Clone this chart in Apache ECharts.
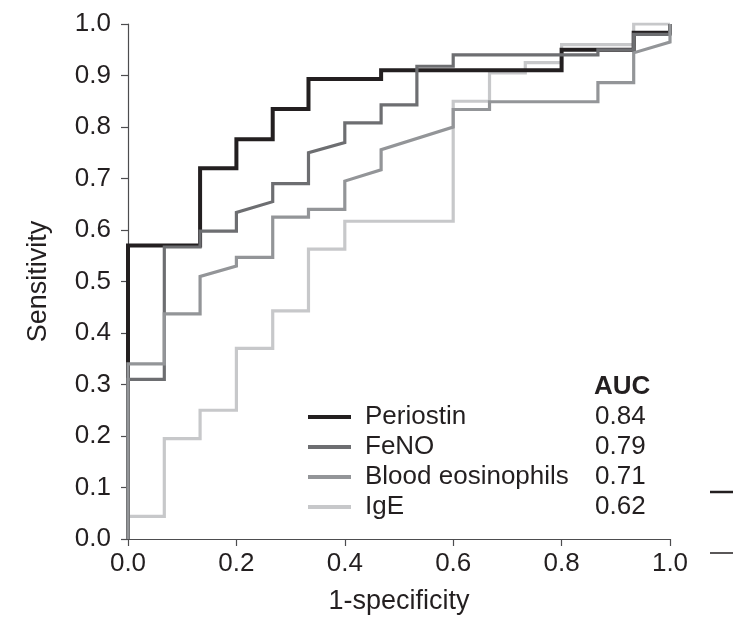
<!DOCTYPE html>
<html>
<head>
<meta charset="utf-8">
<script src="https://cdn.jsdelivr.net/npm/echarts@6/dist/echarts.min.js"></script>
<style>
  html, body { margin: 0; padding: 0; background: #fff; }
  #chart { width: 737px; height: 620px; }
</style>
</head>
<body>
<div id="chart"></div>
<script>
// ROC curves, vertices of each step line: [1-specificity, sensitivity]
const names = ['Periostin', 'FeNO', 'Blood eosinophils', 'IgE']
const aucValues = ['0.84', '0.79', '0.71', '0.62']
const colors = ['#231f20', '#6d6e71', '#939598', '#c7c8ca']
const xTicks = [0, 0.2, 0.4, 0.6, 0.8, 1.0]
const yTicks = [0, 0.1, 0.2, 0.3, 0.4, 0.5, 0.6, 0.7, 0.8, 0.9, 1.0]

const periostin = [
  [0, 0], [0, 0.57], [0.133, 0.57], [0.133, 0.72], [0.2, 0.72], [0.2, 0.776],
  [0.267, 0.776], [0.267, 0.835], [0.333, 0.835], [0.333, 0.893], [0.467, 0.893],
  [0.467, 0.91], [0.8, 0.91], [0.8, 0.95], [0.933, 0.95], [0.933, 0.983], [1, 0.983], [1, 1]
]
const feno = [
  [0, 0], [0, 0.31], [0.067, 0.31], [0.067, 0.567], [0.133, 0.567], [0.133, 0.598],
  [0.2, 0.598], [0.2, 0.634], [0.267, 0.655], [0.267, 0.69], [0.333, 0.69], [0.333, 0.75],
  [0.4, 0.77], [0.4, 0.808], [0.467, 0.808], [0.467, 0.843], [0.533, 0.843], [0.533, 0.918],
  [0.6, 0.918], [0.6, 0.94], [0.867, 0.94], [0.867, 0.95], [0.933, 0.95], [0.933, 0.98],
  [1, 0.98], [1, 1]
]
const bloodEos = [
  [0, 0], [0, 0.34], [0.067, 0.34], [0.067, 0.437], [0.133, 0.437], [0.133, 0.51],
  [0.2, 0.53], [0.2, 0.547], [0.267, 0.547], [0.267, 0.625], [0.333, 0.625], [0.333, 0.64],
  [0.4, 0.64], [0.4, 0.695], [0.467, 0.717], [0.467, 0.756], [0.6, 0.8], [0.6, 0.834],
  [0.667, 0.834], [0.667, 0.849], [0.867, 0.849], [0.867, 0.886], [0.933, 0.886],
  [0.933, 0.944], [1, 0.965], [1, 1]
]
const ige = [
  [0, 0], [0, 0.044], [0.067, 0.044], [0.067, 0.195], [0.133, 0.195], [0.133, 0.25],
  [0.2, 0.25], [0.2, 0.37], [0.267, 0.37], [0.267, 0.443], [0.333, 0.443], [0.333, 0.563],
  [0.4, 0.563], [0.4, 0.617], [0.6, 0.617], [0.6, 0.85], [0.667, 0.85], [0.667, 0.905],
  [0.733, 0.905], [0.733, 0.925], [0.8, 0.925], [0.8, 0.96], [0.933, 0.96], [0.933, 1], [1, 1]
]
const curves = [periostin, feno, bloodEos, ige]

const font = 'Liberation Sans, Arial, Helvetica, sans-serif'
const textColor = '#231f20'
const myChart = echarts.init(document.getElementById('chart'))

function makeSeries(i, z) {
  return {
    name: names[i],
    type: 'line',
    data: curves[i],
    showSymbol: false,
    symbol: 'none',
    z: z,
    color: colors[i],
    lineStyle: { color: colors[i], width: i === 0 ? 4 : 3.2, join: 'miter', cap: 'butt' },
    emphasis: { disabled: true },
    animation: false
  }
}

const option = {
  backgroundColor: '#fff',
  animation: false,
  textStyle: { fontFamily: font },
  grid: { left: 128, right: 67, top: 24, bottom: 79 },
  xAxis: {
    type: 'value',
    min: 0, max: 1, interval: 0.2,
    name: '1-specificity',
    nameLocation: 'middle',
    nameGap: 49,
    nameTextStyle: { fontSize: 27, color: textColor, fontFamily: font },
    axisLine: { show: true, lineStyle: { color: '#4d4d4f', width: 1.2 } },
    axisTick: { show: true, length: 7, lineStyle: { color: '#4d4d4f', width: 1.2 } },
    axisLabel: {
      margin: 12, fontSize: 26, color: textColor, fontFamily: font,
      formatter: v => xTicks.includes(+v.toFixed(1)) ? v.toFixed(1) : ''
    },
    splitLine: { show: false }
  },
  yAxis: {
    type: 'value',
    min: 0, max: 1, interval: 0.1,
    name: 'Sensitivity',
    nameLocation: 'middle',
    nameGap: 76,
    nameTextStyle: { fontSize: 27, color: textColor, fontFamily: font },
    axisLine: { show: true, lineStyle: { color: '#4d4d4f', width: 1.2 } },
    axisTick: { show: true, length: 7, lineStyle: { color: '#4d4d4f', width: 1.2 } },
    axisLabel: {
      margin: 17, fontSize: 26, color: textColor, fontFamily: font,
      formatter: v => yTicks.includes(+v.toFixed(1)) ? v.toFixed(1) : ''
    },
    splitLine: { show: false }
  },
  legend: {
    data: names,
    orient: 'vertical',
    left: 308,
    top: 402,
    padding: 0,
    itemGap: 0,
    itemWidth: 43,
    itemHeight: 4,
    icon: 'rect',
    selectedMode: false,
    formatter: name => '{n|' + name + '}{v|' + aucValues[names.indexOf(name)] + '}',
    textStyle: {
      fontFamily: font,
      fontSize: 26,
      lineHeight: 30,
      color: textColor,
      rich: {
        n: { fontSize: 26, color: textColor, width: 230, padding: [0, 0, 0, 9], lineHeight: 30, fontFamily: font },
        v: { fontSize: 26, color: textColor, lineHeight: 30, fontFamily: font }
      }
    }
  },
  graphic: [
    {
      type: 'text', x: 594, y: 387,
      style: { text: 'AUC', font: 'bold 26px ' + font, fill: textColor, verticalAlign: 'middle' }
    },
    {
      type: 'line', shape: { x1: 710, y1: 492, x2: 733, y2: 492 },
      style: { stroke: textColor, lineWidth: 2.5 }
    },
    {
      type: 'line', shape: { x1: 710, y1: 553, x2: 733, y2: 553 },
      style: { stroke: textColor, lineWidth: 1.5 }
    }
  ],
  series: [
    makeSeries(3, 1),
    makeSeries(0, 2),
    makeSeries(1, 3),
    makeSeries(2, 4)
  ]
}

myChart.setOption(option)
</script>
</body>
</html>
